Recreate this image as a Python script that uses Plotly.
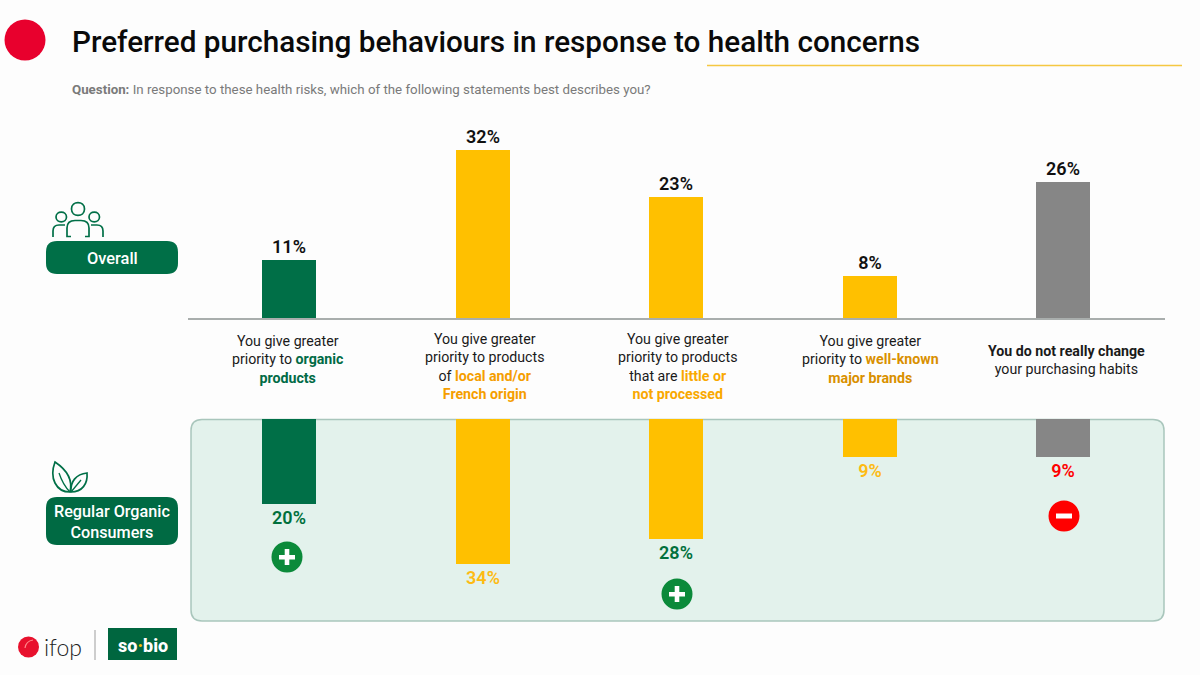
import re
import plotly.graph_objects as go

# Survey results, in percent
categories = ["Organic", "Local or French", "Little processed", "Major brands", "No change"]
overall_values = [11, 32, 23, 8, 26]
regular_values = [20, 34, 28, 9, 9]

GREEN = "#006f47"
YELLOW = "#ffc000"
GREY = "#868686"
bar_colors = [GREEN, YELLOW, YELLOW, YELLOW, GREY]
regular_label_colors = ["#00703c", "#fdbb13", "#00703c", "#fdbb13", "#ff0000"]

category_labels = [
    "You give greater<br>priority to <b style='color:#006b45'>organic</b><br><b style='color:#006b45'>products</b>",
    "You give greater<br>priority to products<br>of <b style='color:#f59e00'>local and/or</b><br><b style='color:#f59e00'>French origin</b>",
    "You give greater<br>priority to products<br>that are <b style='color:#f9a800'>little or</b><br><b style='color:#f9a800'>not processed</b>",
    "You give greater<br>priority to <b style='color:#d99000'>well-known</b><br><b style='color:#d99000'>major brands</b>",
    "<b>You do not really change</b><br>your purchasing habits",
]
label_tops = [331, 329, 329, 331, 341]
label_centers = [288, 485, 678, 870, 1066]

W, H = 1200, 675
FONT = "Roboto"


def px(x):
    return x / W


def py(y):
    return 1 - y / H


def page_path(d):
    """Turn an SVG path written in page pixels into paper coordinates."""
    tokens = re.findall(r"[MLCQZ]|-?\d+\.?\d*", d)
    out, is_x = [], True
    for t in tokens:
        if t.isalpha():
            out.append(t)
            is_x = True
        else:
            out.append(f"{px(float(t)):.5f}" if is_x else f"{py(float(t)):.5f}")
            is_x = not is_x
    return " ".join(out)


def outline(d, color, width=1.7):
    return dict(type="path", xref="paper", yref="paper", path=page_path(d),
                line=dict(color=color, width=width), fillcolor="rgba(0,0,0,0)")


def rounded(x0, y0, x1, y1, r, fill, line=None, layer="below"):
    d = (f"M {x0+r} {y0} L {x1-r} {y0} Q {x1} {y0} {x1} {y0+r} L {x1} {y1-r} Q {x1} {y1} {x1-r} {y1} "
         f"L {x0+r} {y1} Q {x0} {y1} {x0} {y1-r} L {x0} {y0+r} Q {x0} {y0} {x0+r} {y0} Z")
    return dict(type="path", xref="paper", yref="paper", path=page_path(d), fillcolor=fill,
                line=dict(color=line or fill, width=1.5 if line else 0), layer=layer)


def disc(cx, cy, r, fill):
    return dict(type="circle", xref="paper", yref="paper", x0=px(cx - r), x1=px(cx + r),
                y0=py(cy + r), y1=py(cy - r), fillcolor=fill, line=dict(width=0))


def block(x0, y0, x1, y1, fill):
    return dict(type="rect", xref="paper", yref="paper", x0=px(x0), x1=px(x1),
                y0=py(y1), y1=py(y0), fillcolor=fill, line=dict(width=0))


def text(x, y, s, size, color="#111111", anchor="center", weight=None, family=FONT):
    return dict(xref="paper", yref="paper", x=px(x), y=py(y), text=s, showarrow=False,
                xanchor=anchor, yanchor="middle", align="center",
                font=dict(family=family, size=size, color=color, weight=weight))


fig = go.Figure()
fig.add_bar(x=categories, y=overall_values, xaxis="x", yaxis="y", width=0.28,
            marker=dict(color=bar_colors, line=dict(width=0)),
            text=[f"{v}%" for v in overall_values], textposition="outside", cliponaxis=False,
            textfont=dict(family=FONT, size=18, color="#111111", weight=600))
fig.add_bar(x=categories, y=regular_values, xaxis="x2", yaxis="y2", width=0.28,
            marker=dict(color=bar_colors, line=dict(width=0)),
            text=[f"{v}%" for v in regular_values], textposition="outside", cliponaxis=False,
            textfont=dict(family=FONT, size=18, color=regular_label_colors, weight=600))

shapes = [
    # title accents
    disc(25, 40, 20.5, "#e8002d"),
    dict(type="line", xref="paper", yref="paper", x0=px(707), x1=px(1182), y0=py(65.5), y1=py(65.5),
         line=dict(color="#f5c842", width=1.5)),
    # panel behind the regular-consumer bars
    rounded(191, 419.5, 1164, 621, 11, "#e3f2ec", "#a9c6bc"),
    # row badges
    rounded(46, 241, 178, 274, 11, "#006f47"),
    rounded(46, 497, 178, 545, 11, "#006a43"),
    # people icon
    outline("M 84.5 209 C 84.5 200.5 71.5 200.5 71.5 209 C 71.5 217.5 84.5 217.5 84.5 209 Z", GREEN),
    outline("M 66.5 217 C 66.5 210.5 56 210.5 56 217 C 56 223.5 66.5 223.5 66.5 217 Z", GREEN),
    outline("M 99.5 217 C 99.5 210.5 89 210.5 89 217 C 89 223.5 99.5 223.5 99.5 217 Z", GREEN),
    outline("M 71 236.5 L 67 236.5 L 67 228 Q 67 220.5 75 220.5 L 81 220.5 Q 89 220.5 89 228 L 89 236.5 L 85 236.5", GREEN),
    outline("M 53 237 L 53 231 Q 53 225 59 225 L 65 225", GREEN),
    outline("M 103 237 L 103 231 Q 103 225 97 225 L 91 225", GREEN),
    # leaf icon
    outline("M 55 462 C 49 478 56 492 70 492 C 73 480 67 470 55 462 Z", GREEN),
    outline("M 59 473 Q 63 485 70 492", GREEN, 1.3),
    outline("M 87 473 C 76 474 70 482 71 492 C 82 492 88 484 87 473 Z", GREEN),
    outline("M 81 480 L 71 492", GREEN, 1.3),
    # higher / lower markers
    disc(287, 557, 15.5, "#0b8a3a"),
    block(279, 555, 295, 559.5, "#ffffff"), block(284.7, 549, 289.3, 565, "#ffffff"),
    disc(677, 594, 15.5, "#0b8a3a"),
    block(669, 592, 685, 596.5, "#ffffff"), block(674.7, 586, 679.3, 602, "#ffffff"),
    disc(1064, 516, 15.5, "#ff0000"),
    block(1056, 513.5, 1072, 518.5, "#ffffff"),
    # footer logos
    disc(28.5, 647, 10.5, "#e8112d"),
    outline("M 25 648 Q 26 641 33 640", "#ff8a8a", 1.2),
    dict(type="line", xref="paper", yref="paper", x0=px(95), x1=px(95), y0=py(630), y1=py(660),
         line=dict(color="#bdbdbd", width=1.5)),
    block(108, 628, 177, 660, "#00663f"),
]

annotations = [
    text(70, 42, "Preferred purchasing behaviours in response to health concerns", 29.7, "#0a0a0a", "left", 500),
    text(70, 89.5, "<b>Question:</b> In response to these health risks, which of the following statements best describes you?",
         13.3, "#7a7a7a", "left"),
    text(112, 258, "Overall", 16.4, "#ffffff", weight=500),
    text(112, 521.5, "Regular Organic<br>Consumers", 16.2, "#ffffff", weight=500),
    text(63, 647, "ifop", 23, "#222222", "center", weight=300, family="Lato"),
    text(142.5, 645, "so<span style='color:#f5c000'>·</span>bio", 18, "#ffffff", weight=800),
]
for label, top, center in zip(category_labels, label_tops, label_centers):
    annotations.append(dict(xref="paper", yref="paper", x=px(center), y=py(top), text=label,
                            showarrow=False, xanchor="center", yanchor="top", align="center",
                            font=dict(family=FONT, size=14.2, color="#1a1a1a")))

# Both rows share one category spacing; the pixel scale of each value axis is fixed by its range.
x_range = [-0.5225, 4.5266]
x_domain = [px(188), px(1165)]
fig.update_layout(
    width=W, height=H, margin=dict(l=0, r=0, t=0, b=0),
    paper_bgcolor="#fdfdfd", plot_bgcolor="rgba(0,0,0,0)", showlegend=False, bargap=0,
    shapes=shapes, annotations=annotations,
    xaxis=dict(domain=x_domain, range=x_range, type="category", categoryorder="array", categoryarray=categories,
               showticklabels=False, ticks="", showgrid=False, zeroline=False,
               showline=True, linecolor="#a9aead", linewidth=1.5, anchor="y"),
    yaxis=dict(domain=[py(318), py(108)], range=[0, 210 / 5.25], visible=False),
    xaxis2=dict(domain=x_domain, range=x_range, type="category", categoryorder="array", categoryarray=categories,
                visible=False, anchor="y2"),
    yaxis2=dict(domain=[py(620), py(419)], range=[201 / 4.27, 0], visible=False),
)

fig.write_html("out.html")
